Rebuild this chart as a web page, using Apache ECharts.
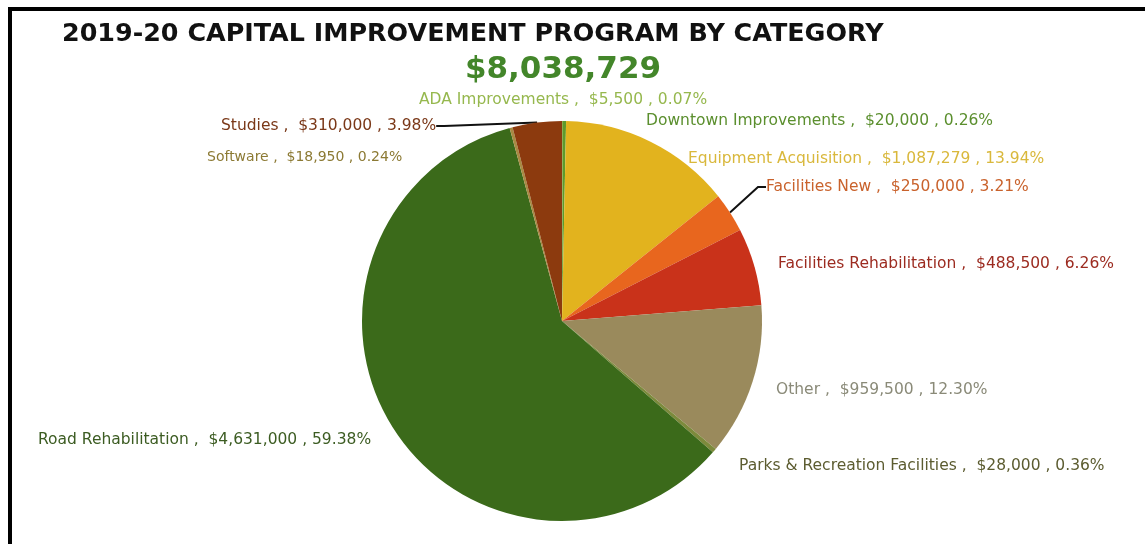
<!DOCTYPE html>
<html>
<head>
<meta charset="utf-8">
<title>2019-20 Capital Improvement Program by Category</title>
<script src="https://cdn.jsdelivr.net/npm/echarts@6/dist/echarts.min.js"></script>
<style>
  html, body { margin: 0; padding: 0; background: #ffffff; }
  #chart { width: 1145px; height: 544px; }
</style>
</head>
<body>
<div id="chart"></div>
<script>
// Capital improvement program, budget by category (US dollars)
const categories = [
  'ADA Improvements',
  'Downtown Improvements',
  'Equipment Acquisition',
  'Facilities New',
  'Facilities Rehabilitation',
  'Other',
  'Parks & Recreation Facilities',
  'Road Rehabilitation',
  'Software',
  'Studies'
];
const amounts = [5500, 20000, 1087279, 250000, 488500, 959500, 28000, 4631000, 18950, 310000];
const programTotal = '$8,038,729';
const chartTitle = '2019-20 CAPITAL IMPROVEMENT PROGRAM BY CATEGORY';

// Styling per category: slice fill, label colour, label size, label anchor (left edge x, middle y), leader line
const sliceColors = ['#7fa63a', '#5e9a2c', '#e2b31e', '#e8661e', '#c9321a', '#9a8a5c', '#7d8a3c', '#3b6a1a', '#a88a42', '#8c3a0e'];
const labelColors = ['#96b84e', '#5b8f2e', '#d9b83c', '#c9622c', '#9c2b20', '#8a8a78', '#5c5c30', '#3c5c22', '#8c7a34', '#7a3818'];
const labelSizes = [15.5, 15.5, 15.5, 15.5, 15.5, 15.5, 15.5, 15.5, 14, 15.5];
const labelAnchors = [
  [419, 100], [646, 121], [688, 159], [766, 187], [778, 264],
  [776, 390], [739, 466], [38, 440], [207, 157], [221, 126]
];
const withLeader = [false, false, false, true, false, false, false, false, false, true];

const money = v => '$' + v.toLocaleString('en-US');

const seriesData = categories.map((name, i) => ({
  name: name,
  value: amounts[i],
  itemStyle: { color: sliceColors[i] },
  label: { color: labelColors[i], fontSize: labelSizes[i] },
  labelLine: { show: withLeader[i] }
}));

const chart = echarts.init(document.getElementById('chart'), null, { renderer: 'canvas' });

chart.setOption({
  animation: false,
  backgroundColor: '#ffffff',
  title: [
    {
      text: chartTitle,
      left: 62,
      top: 22,
      padding: 0,
      textStyle: { fontFamily: 'DejaVu Sans', fontWeight: 'bold', fontSize: 25.4, color: '#111111' }
    },
    {
      text: programTotal,
      left: 563,
      top: 54,
      padding: 0,
      textAlign: 'center',
      textStyle: { fontFamily: 'DejaVu Sans', fontWeight: 'bold', fontSize: 31, color: '#43862a' }
    }
  ],
  graphic: [
    // frame lines along the top and left edges
    { type: 'rect', shape: { x: 8, y: 7, width: 1137, height: 4 }, style: { fill: '#000000' }, silent: true },
    { type: 'rect', shape: { x: 8, y: 7, width: 4, height: 537 }, style: { fill: '#000000' }, silent: true }
  ],
  series: [
    {
      type: 'pie',
      center: [562, 321],
      radius: 200,
      startAngle: 90,
      clockwise: true,
      avoidLabelOverlap: false,
      data: seriesData,
      label: {
        show: true,
        position: 'outside',
        fontFamily: 'DejaVu Sans',
        fontSize: 15.5,
        formatter: p => p.name + ' ,  ' + money(p.value) + ' , ' + p.percent.toFixed(2) + '%'
      },
      labelLine: {
        show: false,
        length: 8,
        length2: 8,
        lineStyle: { color: '#111111', width: 2 }
      },
      labelLayout: function (params) {
        const a = labelAnchors[params.dataIndex];
        return { x: a[0], y: a[1], align: 'left', verticalAlign: 'middle', moveOverlap: false, hideOverlap: false };
      }
    }
  ]
});
</script>
</body>
</html>
